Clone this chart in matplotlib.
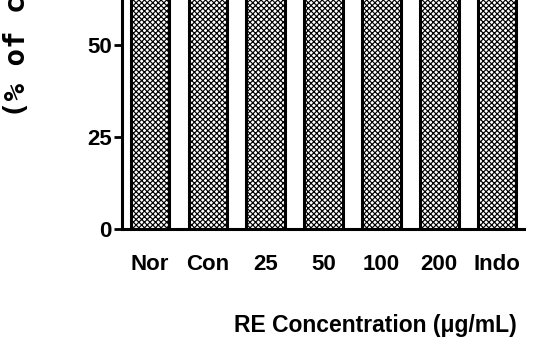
import numpy as np
import matplotlib
matplotlib.use("Agg")
import matplotlib.pyplot as plt

# data (bars run off the top of the cropped figure)
groups = ["Nor", "Con", "25", "50", "100", "200", "Indo"]
values = [100, 100, 97, 94, 90, 86, 83]
yticks = [0, 25, 50]

font = "Liberation Sans"
plt.rcParams["hatch.linewidth"] = 0.85
plt.rcParams["hatch.color"] = "black"

fig = plt.figure(figsize=(5.33, 3.54), dpi=100)
ax = fig.add_axes([122 / 533, 125 / 354, 402 / 533, 229 / 354])

x = np.arange(len(groups))
ax.bar(x, values, width=0.67, color="white", edgecolor="black",
       linewidth=2.2, hatch="xxxxxx")

ax.set_xlim(-0.485, 6.465)
ax.set_ylim(0, 62.2)
ax.set_yticks(yticks)
ax.set_xticks(x)
ax.set_xticklabels(groups, family=font, fontweight="bold", fontsize=16)
ax.set_yticklabels([str(v) for v in yticks], family=font, fontweight="bold", fontsize=16)

for s in ["top", "right"]:
    ax.spines[s].set_visible(False)
for s in ["left", "bottom"]:
    ax.spines[s].set_linewidth(2.2)
ax.tick_params(axis="y", length=6, width=2.0, pad=1.5)
ax.tick_params(axis="x", length=0, pad=18)

fig.text(375 / 533, 0.08, "RE Concentration (μg/mL)", family=font,
         fontweight="bold", fontsize=16.5, ha="center", va="center")
fig.text(0.031, (354 - 118) / 354, "(% of control)", family="DejaVu Sans Mono",
         fontweight="bold", fontsize=21, rotation=90, ha="center", va="bottom")

fig.savefig("out.png", dpi=100)
